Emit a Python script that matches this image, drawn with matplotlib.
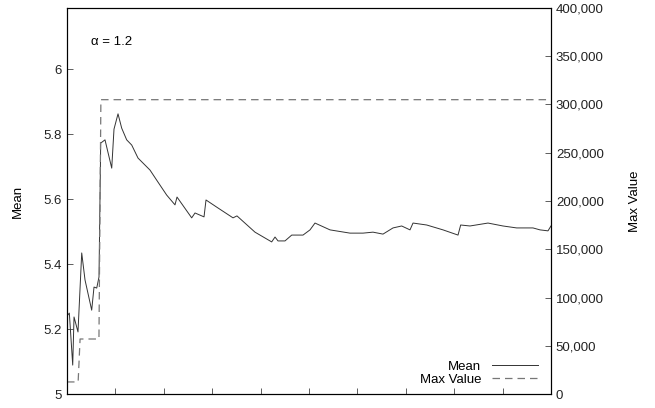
import numpy as np
import matplotlib.pyplot as plt

plt.rcParams['font.family'] = ['Liberation Sans', 'DejaVu Sans']
plt.rcParams['font.size'] = 9.5

# running mean
x_mean = [0.0, 0.48, 1.18, 1.45, 2.27, 3.04, 3.72, 5.10, 5.58, 6.14, 6.61, 6.96, 7.85,
          9.24, 9.71, 10.54, 11.30, 12.33, 13.37, 14.67, 17.15, 18.53, 20.60, 22.31,
          22.73, 25.76, 26.45, 28.31, 28.72, 30.93, 34.30, 35.12, 38.84, 42.29, 42.98,
          43.60, 45.04, 46.43, 48.76, 50.21, 51.24, 54.34, 58.47, 61.16, 63.22, 65.29,
          67.36, 69.15, 70.87, 71.49, 74.32, 77.69, 80.79, 81.34, 83.26, 86.98, 90.08,
          92.91, 96.28, 97.73, 99.38, 100.0]
mean = [5.24, 5.249, 5.089, 5.237, 5.191, 5.434, 5.351, 5.258, 5.329, 5.326, 5.360,
        5.772, 5.782, 5.695, 5.815, 5.862, 5.818, 5.782, 5.766, 5.726, 5.689, 5.658,
        5.612, 5.582, 5.606, 5.542, 5.557, 5.545, 5.597, 5.575, 5.542, 5.548, 5.498,
        5.468, 5.483, 5.471, 5.471, 5.489, 5.489, 5.505, 5.526, 5.505, 5.495, 5.495,
        5.498, 5.492, 5.511, 5.517, 5.505, 5.526, 5.520, 5.505, 5.489, 5.520, 5.517,
        5.526, 5.517, 5.511, 5.511, 5.505, 5.502, 5.517]

# running max (step function)
x_max = [0.0, 2.3, 2.7, 6.6, 7.0, 100.0]
max_val = [12500, 12500, 57000, 57000, 305000, 305000]

fig = plt.figure(figsize=(6.55, 4.08), dpi=100)
ax = fig.add_axes([0.1023, 0.0343, 0.7389, 0.9461])
ax2 = ax.twinx()

l1, = ax.plot(x_mean, mean, color='#333333', lw=0.7, label='Mean')
l2, = ax2.plot(x_max, max_val, color='#777777', lw=0.9, ls=(0, (6, 4)), label='Max Value')

ax.set_xlim(0, 100)
ax.set_ylim(5, 6.1877)
ax2.set_ylim(0, 400000)
ax.set_xticks(np.arange(0, 101, 10))
ax.set_xticklabels([])
ax.set_yticks([5, 5.2, 5.4, 5.6, 5.8, 6])
ax.set_yticklabels(['5', '5.2', '5.4', '5.6', '5.8', '6'])
ax2.set_yticks(np.arange(0, 400001, 50000))
ax2.set_yticklabels([f'{v:,}' for v in range(0, 400001, 50000)])
for a in (ax, ax2):
    a.tick_params(direction='in', length=4, width=0.6, color='#444444', labelcolor='#222222')
    for s in a.spines.values():
        s.set_linewidth(0.8)
ax.tick_params(axis='x', top=False)

ax.set_ylabel('Mean', labelpad=14)
ax2.set_ylabel('Max Value', labelpad=18)
ax.text(0.05, 0.905, 'α = 1.2', transform=ax.transAxes)

ax.legend(handles=[l1, l2], loc='lower right', frameon=False, markerfirst=False,
          handlelength=3.5, borderpad=0.1, labelspacing=0.1,
          bbox_to_anchor=(0.99, 0.0))

fig.savefig('out.png', dpi=100)
